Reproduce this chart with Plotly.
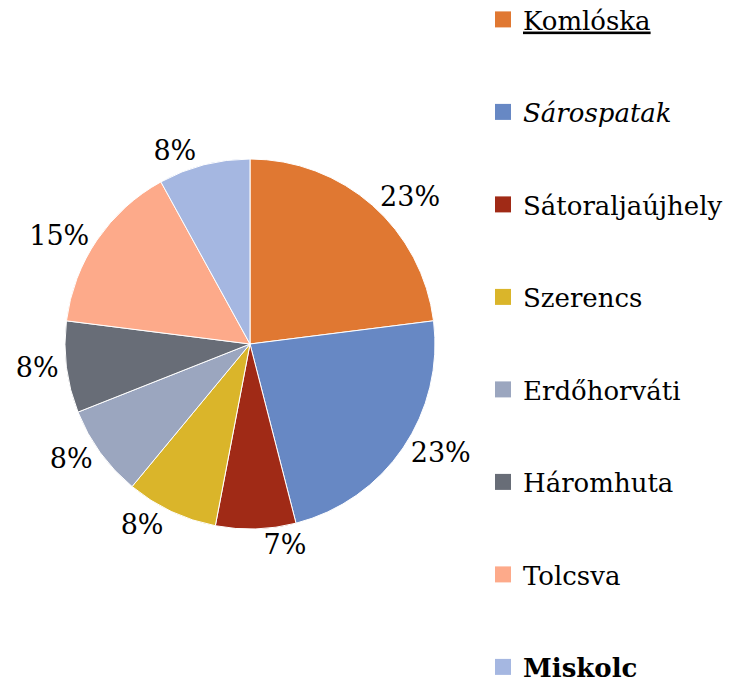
import plotly.graph_objects as go

towns = ['Komlóska', 'Sárospatak', 'Sátoraljaújhely', 'Szerencs',
         'Erdőhorváti', 'Háromhuta', 'Tolcsva', 'Miskolc']
legend_labels = ['<u>Komlóska</u>', '<i>Sárospatak</i>', 'Sátoraljaújhely', 'Szerencs',
                 'Erdőhorváti', 'Háromhuta', 'Tolcsva', '<b>Miskolc</b>']
shares = [23, 23, 7, 8, 8, 8, 15, 8]
colors = ['#E07832', '#6788C4', '#A02A16', '#DAB52A',
          '#9BA6BF', '#686D77', '#FDAA8A', '#A5B7E1']

FONT = '"DejaVu Serif", "Liberation Serif", serif'

fig = go.Figure()

# plotly puts the pie a bit right/low of the domain centre, so domain is nudged
fig.add_trace(go.Pie(
    labels=towns, values=shares, sort=False, direction='clockwise', rotation=0,
    marker=dict(colors=colors, line=dict(color='white', width=1)),
    texttemplate='%{value}%', textposition='outside',
    textfont=dict(family=FONT, size=27, color='black'),
    showlegend=False, hoverinfo='label+percent',
    domain=dict(x=[57 / 750, 427 / 750], y=[1 - 521 / 681, 1 - 151 / 681]),
))

# legend entries (one per town) so the gap between entries can be set
for i, (lab, col) in enumerate(zip(legend_labels, colors)):
    fig.add_trace(go.Scatter(
        x=[None], y=[None], mode='markers', name=lab, legendgroup=str(i),
        marker=dict(symbol='square', size=18, color=col),
    ))

fig.update_xaxes(visible=False)
fig.update_yaxes(visible=False)
fig.update_layout(
    width=750, height=681,
    margin=dict(l=0, r=0, t=0, b=0, autoexpand=False),
    paper_bgcolor='white', plot_bgcolor='white',
    font=dict(family=FONT, size=26, color='black'),
    legend=dict(x=475 / 750, y=1 + 12 / 681, xanchor='left', yanchor='top',
                font=dict(family=FONT, size=26, color='black'),
                tracegroupgap=55.7, itemsizing='trace', maxheight=900),
)

fig.write_html('out.html')
